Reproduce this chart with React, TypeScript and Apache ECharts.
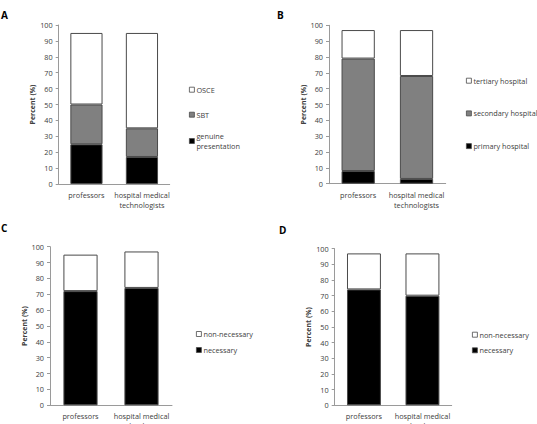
import React, { useEffect, useRef } from "react";
import * as echarts from "echarts";

// Category labels shared by all four panels
const groups = ["professors", "hospital medical\ntechnologists"];
const yTicks = { min: 0, max: 100, interval: 10 };

// Panel A: assessment method (%)
const aGenuine = [25, 17];
const aSBT = [25, 18];
const aOSCE = [45, 60];

// Panel B: hospital level (%)
const bPrimary = [8, 3];
const bSecondary = [71, 65];
const bTertiary = [18, 29];

// Panel C: necessity (%)
const cNecessary = [72, 74];
const cNonNecessary = [23, 23];

// Panel D: necessity (%)
const dNecessary = [74, 70];
const dNonNecessary = [23, 27];

const FONT = "Open Sans";
const TEXT = "#404040";
const AXIS = "#9a9a9a";
const EDGE = "#4a4a4a";
const BLACK = "#000000";
const GRAY = "#808080";
const WHITE = "#ffffff";

type Panel = { left: number; right: number; top: number; bottom: number; nameGap: number; barWidth: string };

const panels: Panel[] = [
  { left: 58.7, right: 169.7, top: 25, bottom: 184, nameGap: 21, barWidth: "58%" },
  { left: 329, right: 445.7, top: 25.3, bottom: 183.7, nameGap: 19, barWidth: "57%" },
  { left: 50, right: 172, top: 246.7, bottom: 405.3, nameGap: 18, barWidth: "56%" },
  { left: 334.7, right: 451.7, top: 248.7, bottom: 405.3, nameGap: 21, barWidth: "58%" },
];

const W = 537;
const H = 424;

function bar(name: string, data: number[], color: string, idx: number, barWidth: string) {
  return {
    type: "bar",
    name,
    data,
    stack: "p" + idx,
    xAxisIndex: idx,
    yAxisIndex: idx,
    barWidth,
    itemStyle: { color, borderColor: EDGE, borderWidth: 1 },
  };
}

function legend(names: string[], left: number, top: number, itemGap: number, padTop = 0) {
  return {
    data: names,
    orient: "vertical",
    left,
    top,
    itemGap,
    itemWidth: 5,
    itemHeight: 5,
    icon: "rect",
    selectedMode: false,
    itemStyle: { borderColor: EDGE, borderWidth: 0.8 },
    textStyle: {
      fontFamily: FONT,
      fontSize: 7.3,
      color: TEXT,
      lineHeight: 10,
      padding: [padTop, 0, 0, -3],
    },
  };
}

export default function App() {
  const ref = useRef<HTMLDivElement>(null);

  useEffect(() => {
    if (!ref.current) return;
    const chart = echarts.init(ref.current, null, { renderer: "svg" });

    const grid = panels.map((p) => ({
      left: p.left,
      top: p.top,
      width: p.right - p.left,
      height: p.bottom - p.top,
      containLabel: false,
      outerBoundsMode: "none",
    }));

    const xAxis = panels.map((_, i) => ({
      type: "category",
      gridIndex: i,
      data: groups,
      axisLine: { lineStyle: { color: AXIS, width: 1 } },
      axisTick: { show: false },
      axisLabel: { fontFamily: FONT, fontSize: 7.3, color: TEXT, lineHeight: 10, margin: 6, interval: 0, hideOverlap: false },
    }));

    const yAxis = panels.map((p, i) => ({
      type: "value",
      gridIndex: i,
      ...yTicks,
      name: "Percent (%)",
      nameLocation: "middle",
      nameGap: p.nameGap,
      nameRotate: 90,
      nameTextStyle: { fontFamily: FONT, fontSize: 7, fontWeight: "bold", color: TEXT },
      splitLine: { show: false },
      axisLine: { show: true, lineStyle: { color: AXIS, width: 1 } },
      axisTick: { show: true, inside: false, length: 3, lineStyle: { color: AXIS } },
      axisLabel: { fontFamily: FONT, fontSize: 7.3, color: TEXT, margin: 6 },
    }));

    const series = [
      bar("genuine\npresentation", aGenuine, BLACK, 0, panels[0].barWidth),
      bar("SBT", aSBT, GRAY, 0, panels[0].barWidth),
      bar("OSCE", aOSCE, WHITE, 0, panels[0].barWidth),
      bar("primary hospital", bPrimary, BLACK, 1, panels[1].barWidth),
      bar("secondary hospital", bSecondary, GRAY, 1, panels[1].barWidth),
      bar("tertiary hospital", bTertiary, WHITE, 1, panels[1].barWidth),
      bar("necessary", cNecessary, BLACK, 2, panels[2].barWidth),
      bar("non-necessary", cNonNecessary, WHITE, 2, panels[2].barWidth),
      bar("necessary", dNecessary, BLACK, 3, panels[3].barWidth),
      bar("non-necessary", dNonNecessary, WHITE, 3, panels[3].barWidth),
    ];

    const letterStyle = { fontFamily: FONT, fontSize: 10, fontWeight: "bold", color: "#000" };

    chart.setOption({
      animation: false,
      backgroundColor: "#ffffff",
      title: [
        { text: "A", left: 1, top: 10, textStyle: letterStyle, padding: 0 },
        { text: "B", left: 277, top: 10, textStyle: letterStyle, padding: 0 },
        { text: "C", left: 1, top: 223, textStyle: letterStyle, padding: 0 },
        { text: "D", left: 279, top: 225, textStyle: letterStyle, padding: 0 },
      ],
      legend: [
        legend(["OSCE", "SBT"], 184, 79.7, 15),
        legend(["genuine\npresentation"], 184, 121, 0, 10),
        legend(["tertiary hospital", "secondary hospital", "primary hospital"], 461, 70.7, 22.7),
        legend(["non-necessary", "necessary"], 191, 324, 6),
        legend(["non-necessary", "necessary"], 467, 324.7, 5.6),
      ],
      grid,
      xAxis,
      yAxis,
      series,
    });

    return () => chart.dispose();
  }, []);

  return (
    <div
      ref={ref}
      style={{ position: "absolute", left: 0, top: 0, width: W, height: H, background: "#fff" }}
    />
  );
}
